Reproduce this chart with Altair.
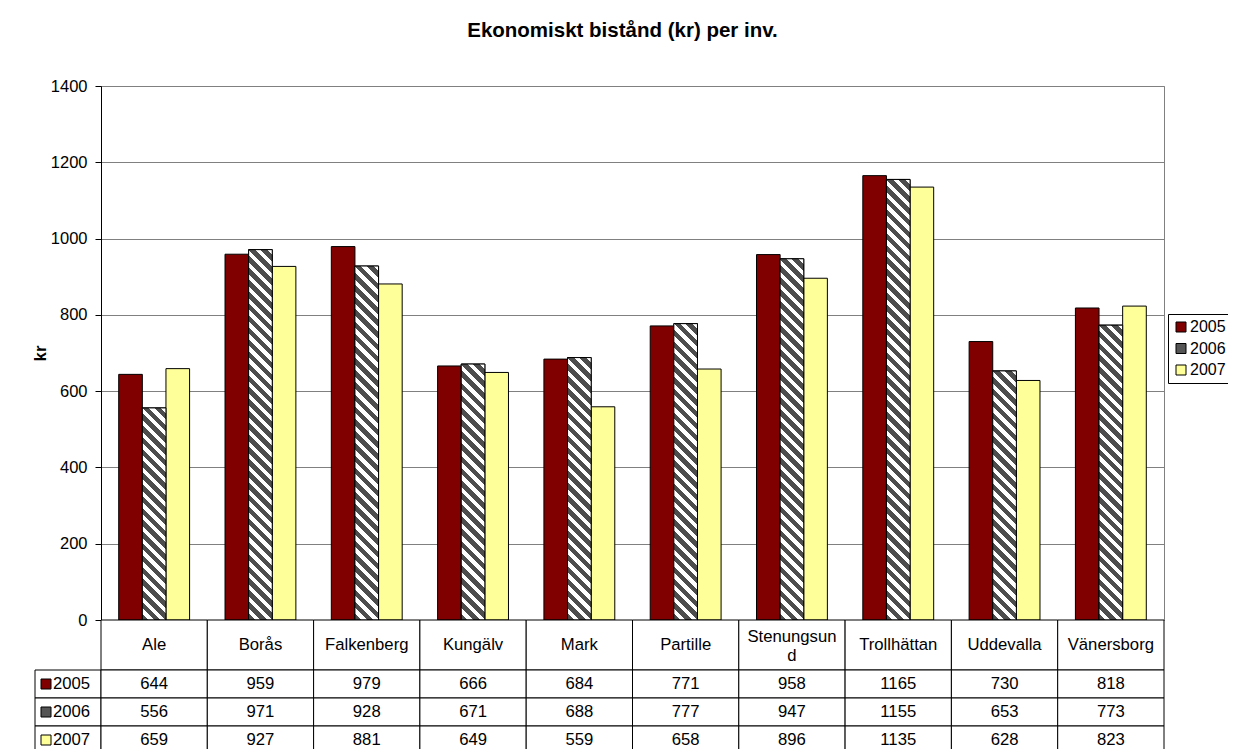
import altair as alt
import pandas as pd

# ---------------- data ----------------
cities = ["Ale", "Borås", "Falkenberg", "Kungälv", "Mark", "Partille",
          "Stenungsund", "Trollhättan", "Uddevalla", "Vänersborg"]
header_labels = ["Ale", "Borås", "Falkenberg", "Kungälv", "Mark", "Partille",
                 "Stenungsun\nd", "Trollhättan", "Uddevalla", "Vänersborg"]
years = ["2005", "2006", "2007"]
v2005 = [644, 959, 979, 666, 684, 771, 958, 1165, 730, 818]
v2006 = [556, 971, 928, 671, 688, 777, 947, 1155, 653, 773]
v2007 = [659, 927, 881, 649, 559, 658, 896, 1135, 628, 823]
y_ticks = [0, 200, 400, 600, 800, 1000, 1200, 1400]
title_text = "Ekonomiskt bistånd (kr) per inv."
y_title = "kr"

# ---------------- style ----------------
colors = ["#800000", "#555555", "#FFFF99"]
stripe_dark = "#4d4d4d"
stripe_light = "#ffffff"
FONT = "Liberation Sans"
FS = 16.7
W, H = 1063, 534
HEAD, ROW, LABW = 50, 28, 66
YMAX = 1400

rows = []
for yr, vals in zip(years, [v2005, v2006, v2007]):
    for c, v in zip(cities, vals):
        rows.append({"city": c, "year": yr, "value": v})
df = pd.DataFrame(rows)

city_scale = alt.Scale(domain=cities, paddingInner=0, paddingOuter=0)
x_enc = alt.X("city:N", scale=city_scale, axis=None)
xo_enc = alt.XOffset("year:N", scale=alt.Scale(domain=years, paddingInner=0, paddingOuter=0.75))
y_enc = alt.Y(
    "value:Q",
    scale=alt.Scale(domain=[0, YMAX], nice=False),
    axis=alt.Axis(
        values=y_ticks, format="d", title=y_title,
        titleFont=FONT, titleFontSize=FS, titleFontWeight="bold", titleColor="black",
        titleX=-61, titleBaseline="middle",
        labelFont=FONT, labelFontSize=16.5, labelColor="black", labelPadding=8,
        tickSize=6, tickColor="black", domainColor="black",
        grid=True, gridColor="#808080", gridWidth=1,
    ),
)

main_bars = alt.Chart(df).mark_bar(stroke="black", strokeWidth=1).encode(
    x=x_enc, xOffset=xo_enc, y=y_enc,
    color=alt.Color(
        "year:N", scale=alt.Scale(domain=years, range=colors), title=None,
        legend=alt.Legend(
            orient="none", legendX=1133, legendY=228,
            symbolType="square", symbolSize=100, symbolStrokeColor="black",
            symbolStrokeWidth=1, symbolOpacity=1,
            labelFont=FONT, labelFontSize=16, labelColor="black",
            strokeColor="black", padding=5, rowPadding=5.5, labelOffset=1,
        ),
    ),
)

# striped bars for 2006 (gradient with hard stops, one per bar)
bar_w = W / len(cities) / 4.5
period_v = 12.0
dark_frac = 0.55
stripe_layers = []
for c, v in zip(cities, v2006):
    h = v / YMAX * H
    r = h / bar_w
    a = (1 + r) / (1 + r * r)
    n = max(1, int(round((bar_w + h) / period_v)))
    stops = []
    for k in range(n):
        o0 = k / n
        o1 = (k + dark_frac) / n
        o2 = (k + 1) / n
        stops += [
            alt.GradientStop(offset=o0, color=stripe_dark),
            alt.GradientStop(offset=o1, color=stripe_dark),
            alt.GradientStop(offset=o1, color=stripe_light),
            alt.GradientStop(offset=o2, color=stripe_light),
        ]
    grad = alt.LinearGradient(gradient="linear", stops=stops,
                              x1=0, y1=1, x2=a, y2=1 - a * r)
    sub = df[(df.year == "2006") & (df.city == c)]
    stripe_layers.append(
        alt.Chart(sub).mark_bar(fill=grad, stroke="black", strokeWidth=1).encode(
            x=x_enc, xOffset=xo_enc, y=y_enc
        )
    )

bars = alt.layer(main_bars, *stripe_layers).properties(
    width=W, height=H,
    title=alt.TitleParams(title_text, font=FONT, fontSize=20.5, fontWeight="bold",
                          color="black", anchor="middle", dx=-10, offset=37),
    view=alt.ViewBackground(stroke="#808080", strokeWidth=1),
)

# ---------------- table ----------------
spacer_top = alt.Chart(pd.DataFrame({"t": [""]})).mark_text().encode(
    text="t:N").properties(width=LABW, height=H)
spacer_mid = alt.Chart(pd.DataFrame({"t": [""]})).mark_text().encode(
    text="t:N").properties(width=LABW, height=HEAD)

hdf = pd.DataFrame({"city": cities, "label": header_labels})
hbase = alt.Chart(hdf).encode(x=alt.X("city:N", scale=city_scale, axis=None))
header = alt.layer(
    hbase.mark_rect(fill="white", stroke="black", strokeWidth=1),
    hbase.transform_filter("indexof(datum.label, '\\n') < 0").mark_text(
        font=FONT, fontSize=FS, color="black", baseline="middle"
    ).encode(text="label:N"),
    hbase.transform_filter("indexof(datum.label, '\\n') >= 0").mark_text(
        font=FONT, fontSize=FS, color="black", baseline="middle",
        lineBreak="\n", lineHeight=19, dy=-8
    ).encode(text="label:N"),
).properties(width=W, height=HEAD)

row_scale = alt.Scale(domain=years, paddingInner=0, paddingOuter=0)
cbase = alt.Chart(df).encode(
    x=alt.X("city:N", scale=city_scale, axis=None),
    y=alt.Y("year:N", scale=row_scale, axis=None),
)
cells = alt.layer(
    cbase.mark_rect(fill="white", stroke="black", strokeWidth=1),
    cbase.mark_text(font=FONT, fontSize=FS, color="black", baseline="middle").encode(
        text=alt.Text("value:Q", format="d")),
).properties(width=W, height=ROW * 3)

ldf = pd.DataFrame({"year": years})
lbase = alt.Chart(ldf).encode(y=alt.Y("year:N", scale=row_scale, axis=None))
labels = alt.layer(
    lbase.mark_rect(fill="white", stroke="black", strokeWidth=1),
    lbase.mark_square(size=100, stroke="black", strokeWidth=1, opacity=1).encode(
        x=alt.value(11),
        fill=alt.Fill("year:N", scale=alt.Scale(domain=years, range=colors), legend=None),
    ),
    lbase.mark_text(font=FONT, fontSize=FS, color="black", align="left",
                    baseline="middle").encode(x=alt.value(18), text="year:N"),
).properties(width=LABW, height=ROW * 3)

chart = alt.concat(
    spacer_top, bars, spacer_mid, header, labels, cells,
    columns=2, spacing=0, bounds="flush", align="each",
).properties(
    padding={"left": 23, "top": 12, "right": -4, "bottom": 0},
).configure_view(strokeWidth=0)

chart.save("out.html", embed_options={"renderer": "svg", "actions": False})
